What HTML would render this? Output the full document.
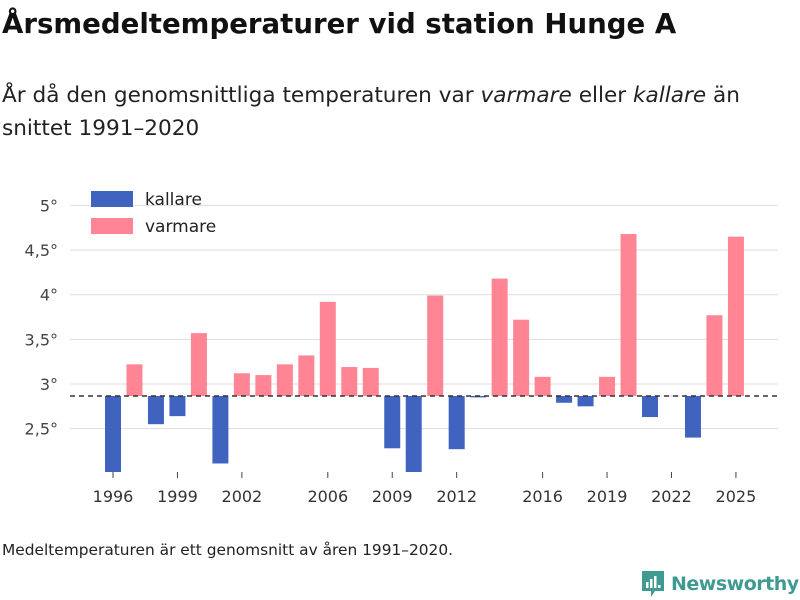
<!DOCTYPE html>
<html><head><meta charset="utf-8"><style>
body{margin:0;width:800px;height:600px;background:#fff;font-family:"DejaVu Sans","Liberation Sans",sans-serif;overflow:hidden;position:relative}
.t{position:absolute;left:2px;top:7px;font-size:27.6px;font-weight:bold;color:#111;white-space:nowrap}
.s{position:absolute;left:2px;top:79px;font-size:21.6px;color:#222;line-height:33px;white-space:nowrap}
.f{position:absolute;left:2px;top:541px;font-size:15.4px;color:#222}
</style></head><body>
<div class="t">Årsmedeltemperaturer vid station Hunge A</div>
<div class="s">År då den genomsnittliga temperaturen var <i>varmare</i> eller <i>kallare</i> än<br>snittet 1991–2020</div>
<svg id="c" width="800" height="600" style="position:absolute;left:0;top:0"></svg>
<div class="f">Medeltemperaturen är ett genomsnitt av åren 1991–2020.</div>
<div style="position:absolute;left:641px;top:570px;display:flex;align-items:center;white-space:nowrap">
<svg width="24" height="28"><path d="M1 1h22v20h-9l-4 6v-6H1z" fill="#3f9a91"/><rect x="5" y="12" width="2.5" height="6" fill="#fff"/><rect x="9" y="9" width="2.5" height="9" fill="#fff"/><rect x="13" y="6" width="2.5" height="12" fill="#fff"/><rect x="17" y="15" width="2.5" height="3" fill="#fff"/></svg>
<span style="font-size:19px;font-weight:bold;color:#3f9a91;margin-left:6px;letter-spacing:-0.5px">Newsworthy</span></div>
<script>
const years=[1996,1997,1998,1999,2000,2001,2002,2003,2004,2005,2006,2007,2008,2009,2010,2011,2012,2013,2014,2015,2016,2017,2018,2019,2020,2021,2022,2023,2024,2025];
const temps=[2.01,3.22,2.55,2.64,3.57,2.11,3.12,3.10,3.22,3.32,3.92,3.19,3.18,2.28,2.01,3.99,2.27,2.85,4.18,3.72,3.08,2.79,2.75,3.08,4.68,2.63,2.87,2.40,3.77,4.65];
const baseline=2.866;
const yTicks=[2.5,3,3.5,4,4.5,5];
const yTickLabels=["2,5°","3°","3,5°","4°","4,5°","5°"];
const xTickYears=[1996,1999,2002,2006,2009,2012,2016,2019,2022,2025];
const svg=document.getElementById('c');const NS='http://www.w3.org/2000/svg';
function y(v){return 384-(v-3)*89.3;}
function x(yr){return 113+(yr-1996)*21.48;}
const yBottom=472;
function mk(t,a,txt){const e=document.createElementNS(NS,t);for(const k in a)e.setAttribute(k,a[k]);if(txt!=null)e.textContent=txt;svg.appendChild(e);return e;}
yTicks.forEach((v,i)=>{
const g=mk('line',{x1:70,x2:778,y1:y(v),y2:y(v),stroke:'#ddd','stroke-width':1});


const t=mk('text',{x:58,y:y(v)+6,'text-anchor':'end','font-size':16,fill:'#444','font-family':'DejaVu Sans, sans-serif'},yTickLabels[i]);


});
years.forEach((yr,i)=>{
const v=temps[i];const yb=y(baseline);let yv=Math.min(y(v),yBottom);
const top=Math.min(yb,yv),h=Math.abs(yb-yv);
const r=mk('rect',{x:x(yr)-8,y:top,width:16,height:Math.max(h,0.5),fill:v<baseline?'#4063bf':'#ff8595'});


});
const bl=mk('line',{x1:70,x2:778,y1:y(baseline),y2:y(baseline),stroke:'#333','stroke-width':1.5,'stroke-dasharray':'5,4'});


xTickYears.forEach(yr=>{
const l=mk('line',{x1:x(yr),x2:x(yr),y1:yBottom,y2:yBottom+6,stroke:'#444','stroke-width':1});


const t=mk('text',{x:x(yr),y:502,'text-anchor':'middle','font-size':16,fill:'#333','font-family':'DejaVu Sans, sans-serif'},yr);


});
[['kallare','#4063bf',199],['varmare','#ff8595',226]].forEach(([n,c,yy])=>{
const r=mk('rect',{x:91,y:yy-8,width:42,height:16,fill:c});


const t=mk('text',{x:145,y:yy+6,'font-size':17,fill:'#222','font-family':'DejaVu Sans, sans-serif'},n);


});
</script>
</body></html>
